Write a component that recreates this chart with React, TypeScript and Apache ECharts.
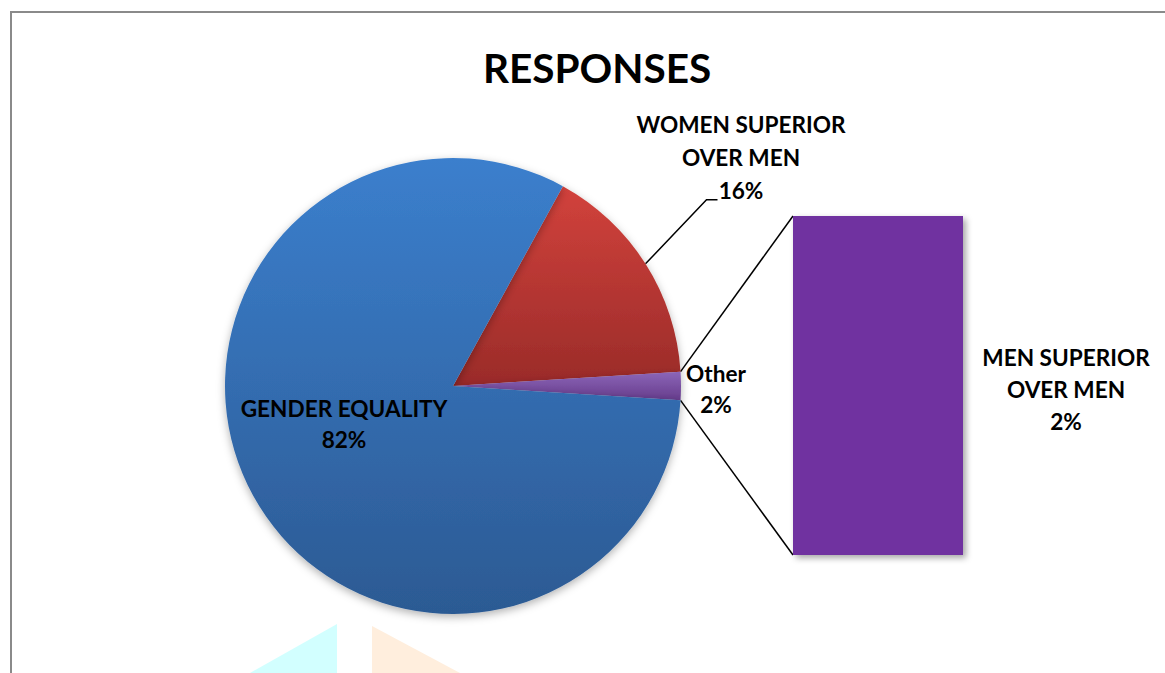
import React, { useEffect, useRef } from "react";
import * as echarts from "echarts";

const titleText = "RESPONSES";
const pieCategories = ["WOMEN SUPERIOR\nOVER MEN", "Other", "GENDER EQUALITY"];
const pieValues = [16, 2, 82];
const barCategories = ["MEN SUPERIOR\nOVER MEN"];
const barValues = [2];

const FONT = "Lato, 'Open Sans', sans-serif";

export default function App() {
  const ref = useRef<HTMLDivElement>(null);
  useEffect(() => {
    const chart = echarts.init(ref.current!, null, { renderer: "svg" });
    const cx = 453;
    const cy = 386;
    const r = 228;
    const total = pieValues.reduce((a, b) => a + b, 0);
    const otherHalf = (pieValues[1] / total) * 180;
    const startAngle = otherHalf + (pieValues[0] / total) * 360;
    const rad = (d: number) => (d * Math.PI) / 180;
    const womenMid = otherHalf + (pieValues[0] / total) * 180;
    const edge = [cx + r * Math.cos(rad(womenMid)), cy - r * Math.sin(rad(womenMid))];
    const topPt = [cx + r * Math.cos(rad(otherHalf)), cy - r * Math.sin(rad(otherHalf))];
    const botPt = [cx + r * Math.cos(rad(-otherHalf)), cy - r * Math.sin(rad(-otherHalf))];

    const bar = { left: 793, top: 216, width: 170, height: 339 };

    const colors = [
      new echarts.graphic.LinearGradient(0, 0, 0, 1, [
        { offset: 0, color: "#D2423C" },
        { offset: 1, color: "#9A2B29" },
      ]),
      new echarts.graphic.LinearGradient(0, 0, 0, 1, [
        { offset: 0, color: "#8C66B8" },
        { offset: 1, color: "#663C8C" },
      ]),
      new echarts.graphic.LinearGradient(0, 0, 0, 1, [
        { offset: 0, color: "#3B7FCD" },
        { offset: 1, color: "#2C5A93" },
      ]),
    ];

    const labelLayouts: any[] = [
      {
        x: 741,
        y: 108,
        align: "center",
        verticalAlign: "top",
        labelLinePoints: [
          edge,
          [edge[0] + 61, edge[1] - 64],
          [edge[0] + 72, edge[1] - 64],
        ],
      },
      { x: 716, y: 389, align: "center", verticalAlign: "middle" },
      { x: 344, y: 424, align: "center", verticalAlign: "middle" },
    ];

    const labelText = {
      color: "#000",
      fontFamily: FONT,
      fontWeight: "bold" as const,
      fontSize: 22.6,
    };

    chart.setOption({
      animation: false,
      backgroundColor: "#fff",
      title: {
        text: titleText,
        left: 592,
        top: 42,
        textAlign: "center",
        textStyle: { color: "#000", fontFamily: FONT, fontWeight: "bold", fontSize: 40.5 },
      },
      grid: { left: bar.left, top: bar.top, width: bar.width, height: bar.height },
      xAxis: { type: "category", data: barCategories, show: false },
      yAxis: { type: "value", min: 0, max: 2, show: false },
      graphic: [
        {
          type: "rect",
          shape: { x: 11, y: 12, width: 1300, height: 800 },
          style: { fill: "none", stroke: "#8a8a8a", lineWidth: 2 },
          silent: true,
          z: -1,
        },
        {
          type: "polygon",
          shape: { points: [[250, 673], [337, 624], [337, 673]] },
          style: { fill: "#D2FFFF" },
          silent: true,
          z: -1,
        },
        {
          type: "polygon",
          shape: { points: [[372, 626], [372, 673], [460, 673]] },
          style: { fill: "#FFEEDD" },
          silent: true,
          z: -1,
        },
        {
          type: "line",
          shape: { x1: topPt[0], y1: topPt[1], x2: bar.left, y2: bar.top },
          style: { stroke: "#000", lineWidth: 1.5 },
          silent: true,
        },
        {
          type: "line",
          shape: { x1: botPt[0], y1: botPt[1], x2: bar.left, y2: bar.top + bar.height },
          style: { stroke: "#000", lineWidth: 1.5 },
          silent: true,
        },
      ],
      series: [
        {
          type: "pie",
          center: [cx, cy],
          radius: [0, r],
          startAngle,
          clockwise: true,
          avoidLabelOverlap: false,
          data: pieCategories.map((name, i) => ({
            name,
            value: pieValues[i],
            itemStyle: {
              color: colors[i],
              shadowBlur: 8,
              shadowOffsetY: 3,
              shadowColor: "rgba(0,0,0,0.3)",
            },
            label: {
              show: true,
              position: i === 2 ? "inside" : "outside",
              formatter: "{b}\n{d}%",
              lineHeight: i === 0 ? 33 : 31,
              ...labelText,
            },
            labelLine: {
              show: i === 0,
              lineStyle: { color: "#000", width: 1.5 },
            },
          })),
          labelLayout: (params: any) => labelLayouts[params.dataIndex],
        },
        {
          type: "bar",
          data: barValues,
          barWidth: "100%",
          itemStyle: {
            color: "#7030A0",
            shadowBlur: 6,
            shadowOffsetX: 3,
            shadowOffsetY: 3,
            shadowColor: "rgba(0,0,0,0.35)",
          },
          label: {
            show: true,
            position: [273, 173],
            align: "center",
            verticalAlign: "middle",
            lineHeight: 32,
            formatter: (p: any) => `${barCategories[p.dataIndex]}\n${p.value}%`,
            ...labelText,
          },
        },
      ],
    });
    return () => chart.dispose();
  }, []);
  return (
    <div
      ref={ref}
      style={{ position: "fixed", left: 0, top: 0, width: 1165, height: 673 }}
    />
  );
}
